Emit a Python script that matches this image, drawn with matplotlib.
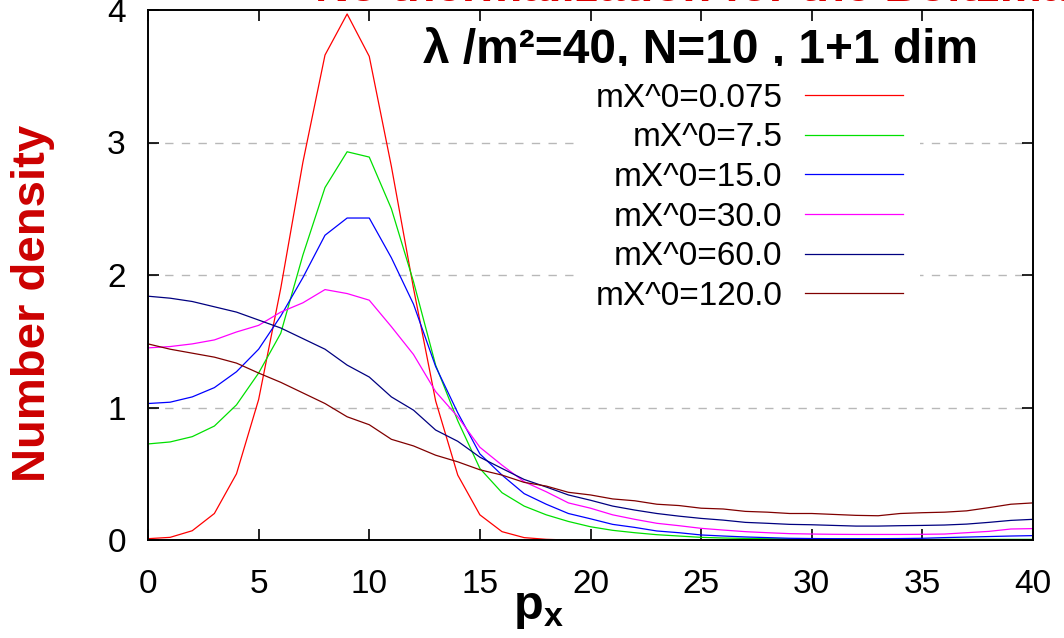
import matplotlib
matplotlib.use("Agg")
import matplotlib.pyplot as plt

plt.rcParams["font.family"] = ["Liberation Sans", "DejaVu Sans"]
plt.rcParams["mathtext.fontset"] = "custom"
plt.rcParams["mathtext.rm"] = "Liberation Sans"
plt.rcParams["mathtext.bf"] = "Liberation Sans:bold"

# --- data (p_x = 0..40) ---
px = list(range(41))

m0075 = [0.01, 0.02, 0.07, 0.2, 0.5, 1.06, 1.9, 2.85, 3.66, 3.97, 3.65, 2.82, 1.9,
         1.05, 0.49, 0.19, 0.063, 0.018, 0.005] + [0.0] * 22
m75 = [0.725, 0.74, 0.78, 0.86, 1.02, 1.26, 1.56, 2.15, 2.66, 2.93, 2.89, 2.5, 1.95,
       1.32, 0.9, 0.54, 0.357, 0.256, 0.19, 0.14, 0.1, 0.073, 0.055, 0.04, 0.03,
       0.02, 0.015, 0.012, 0.01, 0.009, 0.008, 0.007, 0.006, 0.006, 0.005, 0.005,
       0.005, 0.005, 0.005, 0.005, 0.005]
m15 = [1.03, 1.04, 1.08, 1.15, 1.27, 1.44, 1.69, 1.98, 2.3, 2.43, 2.43, 2.13, 1.78,
       1.31, 0.96, 0.65, 0.49, 0.35, 0.27, 0.2, 0.16, 0.118, 0.095, 0.068, 0.055,
       0.038, 0.03, 0.023, 0.018, 0.013, 0.011, 0.01, 0.01, 0.01, 0.011, 0.013,
       0.018, 0.022, 0.026, 0.03, 0.033]
m30 = [1.45, 1.46, 1.48, 1.51, 1.57, 1.62, 1.72, 1.79, 1.89, 1.86, 1.81, 1.61, 1.4,
       1.12, 0.93, 0.7, 0.565, 0.44, 0.364, 0.28, 0.24, 0.19, 0.156, 0.126, 0.108,
       0.088, 0.075, 0.063, 0.055, 0.048, 0.045, 0.043, 0.042, 0.042, 0.042, 0.043,
       0.045, 0.055, 0.065, 0.083, 0.086]
m60 = [1.84, 1.825, 1.8, 1.76, 1.72, 1.66, 1.6, 1.52, 1.44, 1.32, 1.23, 1.08, 0.98,
       0.83, 0.745, 0.625, 0.54, 0.457, 0.4, 0.34, 0.3, 0.256, 0.226, 0.2, 0.18,
       0.163, 0.15, 0.133, 0.126, 0.118, 0.115, 0.11, 0.105, 0.105, 0.108, 0.11,
       0.113, 0.12, 0.133, 0.148, 0.156]
m120 = [1.48, 1.44, 1.41, 1.38, 1.335, 1.26, 1.19, 1.11, 1.03, 0.93, 0.87, 0.76, 0.71,
        0.64, 0.59, 0.53, 0.49, 0.435, 0.407, 0.36, 0.34, 0.31, 0.296, 0.27, 0.26,
        0.24, 0.234, 0.216, 0.21, 0.2, 0.2, 0.193, 0.186, 0.183, 0.2, 0.206, 0.21,
        0.22, 0.244, 0.27, 0.28]

series = [
    ("mX^0=0.075", m0075, "#ff0000"),
    ("mX^0=7.5", m75, "#00e000"),
    ("mX^0=15.0", m15, "#0000ff"),
    ("mX^0=30.0", m30, "#ff00ff"),
    ("mX^0=60.0", m60, "#000080"),
    ("mX^0=120.0", m120, "#800000"),
]

W, H = 1064, 638
fig = plt.figure(figsize=(W / 100, H / 100), dpi=100)
ax = fig.add_axes([148 / W, (H - 540) / H, (1033 - 148) / W, 530 / H])

for label, ys, color in series:
    ax.plot(px, ys, color=color, linewidth=0.9, label=label)

ax.set_xlim(0, 40)
ax.set_ylim(0, 4)
ax.set_xticks(range(0, 41, 5))
ax.set_yticks(range(0, 5))
ax.tick_params(direction="in", length=8, width=1.2, top=True, right=True,
               labelsize=24)
ax.tick_params(axis="x", pad=21)
ax.tick_params(axis="y", pad=16)
for s in ax.spines.values():
    s.set_linewidth(1.4)
for yv in (1, 2, 3):
    ax.axhline(yv, color="#b8b8b8", linewidth=1.0, linestyle=(0, (6, 6)), zorder=0)

leg = ax.legend(loc="upper right", bbox_to_anchor=(920 / W, 1 - 66 / H),
                bbox_transform=fig.transFigure, frameon=True, fancybox=False,
                markerfirst=False, fontsize=24, handlelength=2.95,
                handletextpad=0.68, labelspacing=0.26, borderpad=0.5,
                borderaxespad=0)
leg.get_frame().set_facecolor("white")
leg.get_frame().set_edgecolor("none")
leg.get_frame().set_alpha(1)

ax.text((701 - 148) / 885, 1 - 40 / 530, "\u03bb /m\u00b2=40, N=10 , 1+1 dim",
        transform=ax.transAxes, ha="center", va="center", fontsize=34.5,
        fontweight="bold", zorder=5)

fig.text(33 / W, 1 - 303 / H, "Number density", rotation=90, color="#cc0000",
         fontsize=34, fontweight="bold", ha="center", va="center")
fig.text(513 / W, 1 - 619 / H, r"$\mathbf{p_x}$", fontsize=35,
         ha="left", va="baseline")
# title sits mostly above the top edge, only the lower part of the letters shows
fig.text(315 / W, 1 - 11 / H, "No thermalization for the Boltzmann equation",
         color="#dd0000", fontsize=34, fontweight="bold", ha="left", va="bottom")

fig.savefig("out.png", dpi=100)
